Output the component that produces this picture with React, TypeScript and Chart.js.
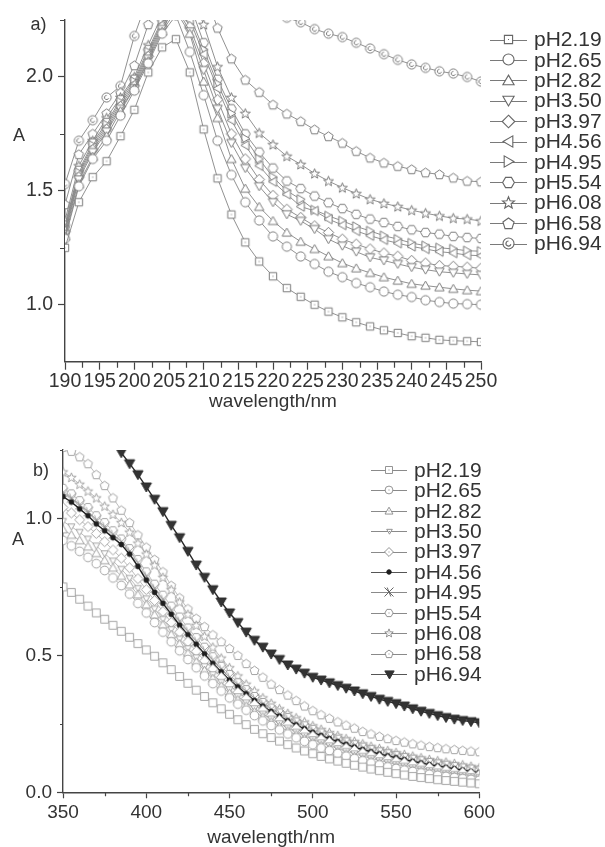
import React, { useEffect, useRef } from 'react';
import { Chart, registerables } from 'chart.js';
Chart.register(...registerables);

// ---------------- DATA ----------------
const seriesLabels = ['pH2.19', 'pH2.65', 'pH2.82', 'pH3.50', 'pH3.97', 'pH4.56', 'pH4.95', 'pH5.54', 'pH6.08', 'pH6.58', 'pH6.94'];

// Panel a: wavelength 190-250 nm (every 2 nm)
const waveA = [190, 192, 194, 196, 198, 200, 202, 204, 206, 208, 210, 212, 214, 216, 218, 220, 222, 224, 226, 228, 230, 232, 234, 236, 238, 240, 242, 244, 246, 248, 250];
const a219 = [1.25, 1.45, 1.56, 1.63, 1.74, 1.856, 2.02, 2.13, 2.166, 2.02, 1.77, 1.555, 1.396, 1.274, 1.19, 1.125, 1.073, 1.035, 1.0, 0.97, 0.945, 0.923, 0.905, 0.888, 0.876, 0.862, 0.855, 0.846, 0.842, 0.84, 0.837];
const a265 = [1.29, 1.52, 1.64, 1.72, 1.83, 1.94, 2.06, 2.19, 2.27, 2.11, 1.92, 1.72, 1.57, 1.45, 1.37, 1.30, 1.255, 1.212, 1.179, 1.145, 1.121, 1.095, 1.077, 1.058, 1.044, 1.034, 1.02, 1.012, 1.005, 1.003, 1.0];
const a282 = [1.30, 1.53, 1.65, 1.74, 1.85, 1.95, 2.07, 2.20, 2.29, 2.19, 1.98, 1.82, 1.64, 1.51, 1.43, 1.368, 1.317, 1.277, 1.245, 1.213, 1.183, 1.16, 1.14, 1.121, 1.106, 1.092, 1.084, 1.077, 1.07, 1.064, 1.06];
const a350 = [1.31, 1.55, 1.67, 1.76, 1.86, 1.95, 2.08, 2.21, 2.31, 2.20, 2.03, 1.86, 1.71, 1.60, 1.52, 1.45, 1.397, 1.368, 1.332, 1.288, 1.259, 1.233, 1.208, 1.194, 1.179, 1.165, 1.154, 1.145, 1.14, 1.135, 1.131];
const a397 = [1.32, 1.56, 1.68, 1.77, 1.87, 1.96, 2.09, 2.22, 2.33, 2.22, 2.06, 1.90, 1.75, 1.64, 1.55, 1.48, 1.419, 1.383, 1.346, 1.317, 1.288, 1.266, 1.245, 1.227, 1.213, 1.194, 1.183, 1.172, 1.169, 1.165, 1.16];
const a456 = [1.33, 1.57, 1.69, 1.78, 1.88, 1.97, 2.10, 2.23, 2.34, 2.25, 2.10, 1.95, 1.81, 1.70, 1.61, 1.54, 1.485, 1.431, 1.412, 1.376, 1.35, 1.324, 1.303, 1.285, 1.27, 1.256, 1.245, 1.233, 1.227, 1.218, 1.215];
const a495 = [1.34, 1.58, 1.70, 1.79, 1.89, 1.98, 2.11, 2.24, 2.36, 2.27, 2.12, 1.97, 1.84, 1.73, 1.64, 1.56, 1.50, 1.463, 1.416, 1.39, 1.368, 1.344, 1.324, 1.303, 1.288, 1.271, 1.259, 1.25, 1.245, 1.237, 1.235];
const a554 = [1.35, 1.59, 1.71, 1.80, 1.90, 1.99, 2.12, 2.25, 2.38, 2.32, 2.15, 1.99, 1.86, 1.75, 1.67, 1.60, 1.543, 1.51, 1.477, 1.448, 1.422, 1.397, 1.376, 1.361, 1.344, 1.329, 1.317, 1.31, 1.30, 1.295, 1.291];
const a608 = [1.37, 1.61, 1.72, 1.82, 1.91, 2.00, 2.14, 2.27, 2.42, 2.38, 2.23, 2.045, 1.91, 1.84, 1.754, 1.703, 1.652, 1.616, 1.576, 1.543, 1.514, 1.488, 1.463, 1.445, 1.431, 1.415, 1.402, 1.39, 1.38, 1.376, 1.368];
const a658 = [1.44, 1.66, 1.75, 1.84, 1.93, 2.05, 2.23, 2.40, 2.50, 2.52, 2.38, 2.215, 2.08, 1.987, 1.933, 1.878, 1.838, 1.805, 1.769, 1.739, 1.71, 1.674, 1.645, 1.623, 1.608, 1.594, 1.58, 1.572, 1.557, 1.543, 1.54];
const a694 = [1.53, 1.72, 1.81, 1.91, 1.96, 2.18, 2.35, 2.48, 2.58, 2.62, 2.60, 2.55, 2.48, 2.42, 2.35, 2.29, 2.26, 2.24, 2.21, 2.19, 2.175, 2.15, 2.125, 2.10, 2.075, 2.055, 2.04, 2.025, 2.015, 2.0, 1.98];

const xTicksA = [190, 195, 200, 205, 210, 215, 220, 225, 230, 235, 240, 245, 250];
const xMinorA = [192.5, 197.5, 202.5, 207.5, 212.5, 217.5, 222.5, 227.5, 232.5, 237.5, 242.5, 247.5];
const yTicksA = [1.0, 1.5, 2.0];
const yMinorA = [1.25, 1.75, 2.25];

// Panel b: wavelength 350-600 nm (every 5 nm)
const waveB = [350, 355, 360, 365, 370, 375, 380, 385, 390, 395, 400, 405, 410, 415, 420, 425, 430, 435, 440, 445, 450, 455, 460, 465, 470, 475, 480, 485, 490, 495, 500, 505, 510, 515, 520, 525, 530, 535, 540, 545, 550, 555, 560, 565, 570, 575, 580, 585, 590, 595, 600];
const b219 = [0.75, 0.73, 0.705, 0.68, 0.655, 0.632, 0.61, 0.588, 0.566, 0.543, 0.52, 0.497, 0.473, 0.448, 0.423, 0.398, 0.373, 0.35, 0.327, 0.305, 0.285, 0.265, 0.247, 0.23, 0.214, 0.2, 0.187, 0.174, 0.162, 0.151, 0.141, 0.131, 0.122, 0.114, 0.106, 0.099, 0.092, 0.085, 0.079, 0.073, 0.068, 0.063, 0.058, 0.054, 0.05, 0.046, 0.043, 0.04, 0.037, 0.034, 0.031];
const b265 = [0.92, 0.9, 0.88, 0.858, 0.835, 0.81, 0.783, 0.755, 0.724, 0.69, 0.655, 0.62, 0.585, 0.55, 0.517, 0.485, 0.455, 0.425, 0.397, 0.37, 0.345, 0.322, 0.3, 0.28, 0.261, 0.244, 0.228, 0.213, 0.199, 0.186, 0.174, 0.162, 0.152, 0.142, 0.132, 0.123, 0.115, 0.107, 0.1, 0.093, 0.087, 0.081, 0.076, 0.071, 0.066, 0.062, 0.058, 0.054, 0.05, 0.047, 0.044];
const b282 = [0.96, 0.94, 0.92, 0.897, 0.873, 0.847, 0.82, 0.79, 0.758, 0.722, 0.685, 0.648, 0.612, 0.576, 0.542, 0.508, 0.476, 0.445, 0.416, 0.388, 0.362, 0.338, 0.315, 0.294, 0.275, 0.257, 0.24, 0.224, 0.21, 0.196, 0.183, 0.171, 0.16, 0.15, 0.14, 0.131, 0.122, 0.114, 0.107, 0.1, 0.094, 0.088, 0.082, 0.077, 0.072, 0.067, 0.063, 0.059, 0.055, 0.052, 0.049];
const b350 = [0.99, 0.97, 0.95, 0.925, 0.9, 0.872, 0.845, 0.815, 0.782, 0.745, 0.707, 0.67, 0.632, 0.595, 0.56, 0.525, 0.492, 0.46, 0.43, 0.402, 0.375, 0.35, 0.327, 0.306, 0.286, 0.268, 0.251, 0.235, 0.22, 0.206, 0.193, 0.181, 0.17, 0.16, 0.15, 0.141, 0.132, 0.124, 0.116, 0.109, 0.102, 0.096, 0.09, 0.085, 0.08, 0.075, 0.07, 0.066, 0.062, 0.058, 0.055];
const b397 = [1.04, 1.02, 0.995, 0.97, 0.945, 0.915, 0.885, 0.855, 0.82, 0.78, 0.74, 0.7, 0.66, 0.62, 0.585, 0.55, 0.515, 0.48, 0.45, 0.42, 0.392, 0.365, 0.342, 0.32, 0.3, 0.281, 0.264, 0.248, 0.233, 0.219, 0.206, 0.194, 0.183, 0.172, 0.162, 0.153, 0.144, 0.136, 0.128, 0.121, 0.114, 0.108, 0.102, 0.096, 0.091, 0.086, 0.081, 0.076, 0.072, 0.068, 0.064];
const b456 = [1.08, 1.06, 1.035, 1.01, 0.98, 0.955, 0.93, 0.905, 0.87, 0.825, 0.775, 0.73, 0.69, 0.65, 0.61, 0.575, 0.54, 0.505, 0.47, 0.44, 0.41, 0.385, 0.36, 0.335, 0.315, 0.295, 0.278, 0.261, 0.246, 0.232, 0.219, 0.207, 0.196, 0.185, 0.175, 0.165, 0.156, 0.148, 0.14, 0.133, 0.126, 0.119, 0.113, 0.107, 0.101, 0.096, 0.091, 0.086, 0.081, 0.076, 0.072];
const b495 = [1.095, 1.075, 1.05, 1.025, 0.995, 0.97, 0.942, 0.915, 0.88, 0.838, 0.79, 0.745, 0.705, 0.665, 0.625, 0.588, 0.552, 0.518, 0.483, 0.45, 0.42, 0.392, 0.368, 0.343, 0.322, 0.302, 0.284, 0.267, 0.252, 0.238, 0.225, 0.212, 0.2, 0.19, 0.18, 0.17, 0.161, 0.152, 0.144, 0.137, 0.13, 0.123, 0.117, 0.111, 0.105, 0.1, 0.095, 0.09, 0.085, 0.081, 0.077];
const b554 = [1.11, 1.09, 1.065, 1.04, 1.01, 0.985, 0.955, 0.925, 0.89, 0.85, 0.805, 0.76, 0.72, 0.68, 0.64, 0.6, 0.565, 0.53, 0.495, 0.46, 0.43, 0.4, 0.375, 0.35, 0.328, 0.308, 0.29, 0.273, 0.257, 0.243, 0.23, 0.217, 0.205, 0.194, 0.184, 0.174, 0.165, 0.156, 0.148, 0.141, 0.134, 0.127, 0.121, 0.115, 0.109, 0.104, 0.099, 0.094, 0.089, 0.085, 0.081];
const b608 = [1.17, 1.15, 1.125, 1.1, 1.075, 1.045, 1.015, 0.985, 0.95, 0.91, 0.87, 0.83, 0.785, 0.74, 0.695, 0.65, 0.61, 0.57, 0.53, 0.49, 0.455, 0.425, 0.395, 0.37, 0.345, 0.325, 0.305, 0.288, 0.272, 0.257, 0.243, 0.23, 0.218, 0.207, 0.196, 0.186, 0.177, 0.168, 0.16, 0.152, 0.145, 0.138, 0.132, 0.126, 0.12, 0.115, 0.11, 0.105, 0.1, 0.095, 0.09];
const b658 = [1.26, 1.245, 1.225, 1.2, 1.16, 1.12, 1.075, 1.03, 0.985, 0.94, 0.895, 0.85, 0.805, 0.755, 0.71, 0.67, 0.635, 0.605, 0.575, 0.55, 0.525, 0.5, 0.47, 0.445, 0.42, 0.395, 0.375, 0.355, 0.335, 0.315, 0.298, 0.283, 0.27, 0.257, 0.245, 0.234, 0.222, 0.213, 0.204, 0.196, 0.189, 0.183, 0.177, 0.172, 0.167, 0.163, 0.159, 0.156, 0.153, 0.15, 0.148];
const b694 = [1.55, 1.51, 1.47, 1.42, 1.37, 1.33, 1.285, 1.24, 1.2, 1.16, 1.115, 1.07, 1.025, 0.975, 0.93, 0.88, 0.83, 0.785, 0.74, 0.695, 0.655, 0.62, 0.585, 0.555, 0.53, 0.505, 0.485, 0.465, 0.45, 0.435, 0.42, 0.41, 0.4, 0.39, 0.38, 0.37, 0.36, 0.35, 0.34, 0.332, 0.324, 0.315, 0.305, 0.296, 0.288, 0.28, 0.273, 0.267, 0.262, 0.258, 0.254];

const xTicksB = [350, 400, 450, 500, 550, 600];
const xMinorB = [375, 425, 475, 525, 575];
const yTicksB = [0.0, 0.5, 1.0];
const yMinorB = [0.25, 0.75, 1.25];

const seriesA = [a219, a265, a282, a350, a397, a456, a495, a554, a608, a658, a694];
const seriesB = [b219, b265, b282, b350, b397, b456, b495, b554, b608, b658, b694];

// ---------------- STYLE ----------------
const FONT = "'Liberation Sans', Arial, Helvetica, sans-serif";
const TEXT = '#333333';
const AXIS = '#444444';

const markersA = ['square', 'circle', 'triUp', 'triDown', 'diamond', 'triLeft', 'triRight', 'hexagon', 'star', 'pentagon', 'circleE'];
const markersB = ['square', 'circle', 'triUp', 'triDownSmall', 'diamond', 'dot', 'xstar', 'hexagon', 'star', 'pentagon', 'triDownFill'];

function poly(g: CanvasRenderingContext2D, cx: number, cy: number, r: number, n: number, startDeg: number) {
  for (let k = 0; k < n; k++) {
    const a = ((startDeg + (360 * k) / n) * Math.PI) / 180;
    const px = cx + r * Math.cos(a);
    const py = cy + r * Math.sin(a);
    if (k === 0) g.moveTo(px, py);
    else g.lineTo(px, py);
  }
  g.closePath();
}

function makeMarker(kind: string, size: number, stroke: string, fill: string, lw: number, centerDot = false): HTMLCanvasElement {
  const S = Math.ceil(size) + 5;
  const c = document.createElement('canvas');
  c.width = S;
  c.height = S;
  const g = c.getContext('2d') as CanvasRenderingContext2D;
  const cx = S / 2;
  const cy = S / 2;
  const r = size / 2;
  g.lineWidth = lw;
  g.strokeStyle = stroke;
  g.fillStyle = fill;
  g.lineJoin = 'miter';
  g.beginPath();
  switch (kind) {
    case 'square':
      g.rect(cx - r * 0.82, cy - r * 0.82, r * 1.64, r * 1.64);
      break;
    case 'circle':
    case 'circleE':
      g.arc(cx, cy, r * 0.92, 0, Math.PI * 2);
      break;
    case 'dot':
      g.arc(cx, cy, r * 0.9, 0, Math.PI * 2);
      break;
    case 'triUp':
      poly(g, cx, cy + r * 0.18, r * 1.08, 3, -90);
      break;
    case 'triDown':
    case 'triDownSmall':
    case 'triDownFill':
      poly(g, cx, cy - r * 0.18, r * 1.08, 3, 90);
      break;
    case 'triLeft':
      poly(g, cx + r * 0.18, cy, r * 1.08, 3, 180);
      break;
    case 'triRight':
      poly(g, cx - r * 0.18, cy, r * 1.08, 3, 0);
      break;
    case 'diamond':
      poly(g, cx, cy, r * 1.05, 4, -90);
      break;
    case 'hexagon':
      poly(g, cx, cy, r * 0.98, 6, 0);
      break;
    case 'pentagon':
      poly(g, cx, cy + r * 0.06, r * 0.98, 5, -90);
      break;
    case 'star': {
      for (let k = 0; k < 10; k++) {
        const a = ((-90 + 36 * k) * Math.PI) / 180;
        const rr = k % 2 === 0 ? r * 1.05 : r * 0.45;
        const px = cx + rr * Math.cos(a);
        const py = cy + 0.08 * r + rr * Math.sin(a);
        if (k === 0) g.moveTo(px, py);
        else g.lineTo(px, py);
      }
      g.closePath();
      break;
    }
    case 'xstar':
      break;
  }
  if (kind === 'xstar') {
    g.moveTo(cx - r, cy - r);
    g.lineTo(cx + r, cy + r);
    g.moveTo(cx + r, cy - r);
    g.lineTo(cx - r, cy + r);
    g.moveTo(cx - r * 0.4, cy - r);
    g.lineTo(cx + r * 0.4, cy + r);
    g.stroke();
    return c;
  }
  g.fill();
  g.stroke();
  if (kind === 'circleE') {
    g.beginPath();
    g.arc(cx, cy, r * 0.42, Math.PI * 0.1, Math.PI * 1.5);
    g.stroke();
  }
  if (centerDot) {
    g.fillStyle = stroke;
    g.fillRect(cx - 0.5, cy - 0.5, 1, 1);
  }
  return c;
}

type OverlayCfg = {
  legendX1: number;
  legendX2: number;
  legendTextX: number;
  legendY0: number;
  legendDy: number;
  legendFont: number;
  legendLines: string[];
  legendMarkers: HTMLCanvasElement[];
  texts: { text: string; x: number; y: number; size: number }[];
  minorX: number[];
  minorY: number[];
  minorLenX: number;
  minorLenY: number;
};

function overlayPlugin(cfg: OverlayCfg) {
  return {
    id: 'overlay',
    afterDraw(chart: any) {
      const ctx: CanvasRenderingContext2D = chart.ctx;
      const xs = chart.scales.x;
      const ys = chart.scales.y;
      const area = chart.chartArea;
      ctx.save();
      // minor ticks
      ctx.strokeStyle = AXIS;
      ctx.lineWidth = 1.2;
      ctx.beginPath();
      for (const v of cfg.minorX) {
        const px = Math.round(xs.getPixelForValue(v)) + 0.5;
        ctx.moveTo(px, area.bottom);
        ctx.lineTo(px, area.bottom + cfg.minorLenX);
      }
      for (const v of cfg.minorY) {
        const py = Math.round(ys.getPixelForValue(v)) + 0.5;
        ctx.moveTo(area.left, py);
        ctx.lineTo(area.left - cfg.minorLenY, py);
      }
      ctx.stroke();
      // legend
      ctx.font = `${cfg.legendFont}px ${FONT}`;
      ctx.textBaseline = 'middle';
      ctx.textAlign = 'left';
      chart.data.datasets.forEach((ds: any, i: number) => {
        const y = cfg.legendY0 + i * cfg.legendDy;
        ctx.strokeStyle = cfg.legendLines[i];
        ctx.lineWidth = 1;
        ctx.beginPath();
        ctx.moveTo(cfg.legendX1, Math.round(y) + 0.5);
        ctx.lineTo(cfg.legendX2, Math.round(y) + 0.5);
        ctx.stroke();
        const m = cfg.legendMarkers[i];
        const cx = (cfg.legendX1 + cfg.legendX2) / 2;
        ctx.drawImage(m, Math.round(cx - m.width / 2), Math.round(y - m.height / 2));
        ctx.fillStyle = TEXT;
        ctx.fillText(ds.label, cfg.legendTextX, y + 1);
      });
      // free texts
      for (const t of cfg.texts) {
        ctx.font = `${t.size}px ${FONT}`;
        ctx.fillStyle = TEXT;
        ctx.textAlign = 'center';
        ctx.textBaseline = 'middle';
        ctx.fillText(t.text, t.x, t.y);
      }
      ctx.restore();
    },
  };
}

function axisCommon(tickLen: number, fontSize: number) {
  return {
    grid: { drawOnChartArea: false, drawTicks: true, tickLength: tickLen, tickColor: AXIS, tickWidth: 1.2 },
    border: { display: true, color: AXIS, width: 1.4 },
    ticks: { color: TEXT, font: { size: fontSize, family: FONT }, autoSkip: false, maxRotation: 0, minRotation: 0 },
  };
}

function buildA(canvas: HTMLCanvasElement) {
  const plotMarkers = markersA.map((k) => makeMarker(k, k === 'square' ? 9 : 10, '#7c7c7c', '#ffffff', 1, k === 'square'));
  const legMarkers = markersA.map((k) => makeMarker(k, k === 'square' ? 10 : 12, '#666666', '#ffffff', 1.1, k === 'square'));
  const datasets = seriesA.map((arr, i) => ({
    label: seriesLabels[i],
    data: waveA.map((x, j) => ({ x, y: arr[j] })),
    borderColor: '#858585',
    borderWidth: 0.9,
    pointStyle: plotMarkers[i],
    pointRadius: 4,
    pointHoverRadius: 4,
    tension: 0,
    fill: false,
  }));
  const cx = axisCommon(8, 19.5);
  const cy = axisCommon(7, 19.5);
  return new Chart(canvas, {
    type: 'line',
    data: { datasets },
    options: {
      animation: false,
      responsive: false,
      events: [],
      layout: { padding: { left: 0, right: 124, top: 20, bottom: 0 } },
      plugins: { legend: { display: false }, tooltip: { enabled: false } },
      scales: {
        x: {
          type: 'linear',
          min: 190,
          max: 250,
          ...cx,
          ticks: { ...cx.ticks, padding: 0, callback: (v: any) => String(v) },
          afterBuildTicks: (s: any) => {
            s.ticks = xTicksA.map((v) => ({ value: v }));
          },
          afterFit: (s: any) => {
            s.height = 58.3;
          },
          title: { display: true, text: 'wavelength/nm', color: TEXT, font: { size: 19, family: FONT }, padding: { top: 0, bottom: 7 } },
        },
        y: {
          type: 'linear',
          min: 0.75,
          max: 2.25,
          ...cy,
          ticks: { ...cy.ticks, padding: 5, callback: (v: any) => Number(v).toFixed(1) },
          afterBuildTicks: (s: any) => {
            s.ticks = yTicksA.map((v) => ({ value: v }));
          },
          afterFit: (s: any) => {
            s.width = 65;
          },
        },
      },
    } as any,
    plugins: [
      overlayPlugin({
        legendX1: 490,
        legendX2: 527,
        legendTextX: 534,
        legendY0: 39.5,
        legendDy: 20.4,
        legendFont: 21,
        legendLines: seriesA.map(() => '#7a7a7a'),
        legendMarkers: legMarkers,
        texts: [
          { text: 'a)', x: 38.5, y: 25, size: 18 },
          { text: 'A', x: 19, y: 136, size: 18 },
        ],
        minorX: xMinorA,
        minorY: yMinorA,
        minorLenX: 6,
        minorLenY: 5,
      }),
    ],
  });
}

function buildB(canvas: HTMLCanvasElement) {
  const lineColors = seriesB.map((_, i) => (i === 10 ? '#2a2a2a' : i === 5 ? '#222222' : '#a0a0a0'));
  const plotMarkers = markersB.map((k) => {
    if (k === 'triDownFill') return makeMarker(k, 11, '#2a2a2a', '#333333', 1);
    if (k === 'dot') return makeMarker(k, 5.5, '#1e1e1e', '#1e1e1e', 1);
    if (k === 'triDownSmall') return makeMarker(k, 7.5, '#9a9a9a', '#ffffff', 0.9);
    return makeMarker(k, 9.5, '#9a9a9a', '#ffffff', 0.9);
  });
  const legMarkers = markersB.map((k) => {
    if (k === 'triDownFill') return makeMarker(k, 10, '#333333', '#333333', 1);
    if (k === 'dot') return makeMarker(k, 5, '#1e1e1e', '#1e1e1e', 1);
    if (k === 'triDownSmall') return makeMarker(k, 6, '#888888', '#ffffff', 0.9, true);
    if (k === 'xstar') return makeMarker(k, 9, '#666666', '#ffffff', 1);
    return makeMarker(k, 8.5, '#888888', '#ffffff', 0.9, true);
  });
  const datasets = seriesB.map((arr, i) => ({
    label: seriesLabels[i],
    data: waveB.map((x, j) => ({ x, y: arr[j] })),
    borderColor: lineColors[i],
    borderWidth: i === 5 || i === 10 ? 1.4 : 0.7,
    pointStyle: plotMarkers[i],
    pointRadius: 4,
    pointHoverRadius: 4,
    tension: 0,
    fill: false,
  }));
  const cx = axisCommon(6, 19);
  const cy = axisCommon(6, 19);
  return new Chart(canvas, {
    type: 'line',
    data: { datasets },
    options: {
      animation: false,
      responsive: false,
      events: [],
      layout: { padding: { left: 0, right: 125.7, top: 30, bottom: 0 } },
      plugins: { legend: { display: false }, tooltip: { enabled: false } },
      scales: {
        x: {
          type: 'linear',
          min: 350,
          max: 600,
          ...cx,
          ticks: { ...cx.ticks, padding: 3, callback: (v: any) => String(v) },
          afterBuildTicks: (s: any) => {
            s.ticks = xTicksB.map((v) => ({ value: v }));
          },
          afterFit: (s: any) => {
            s.height = 67.7;
          },
          title: { display: true, text: 'wavelength/nm', color: TEXT, font: { size: 19, family: FONT }, padding: { top: 0, bottom: 10.6 } },
        },
        y: {
          type: 'linear',
          min: 0,
          max: 1.25,
          ...cy,
          ticks: { ...cy.ticks, padding: 5, callback: (v: any) => Number(v).toFixed(1) },
          afterBuildTicks: (s: any) => {
            s.ticks = yTicksB.map((v) => ({ value: v }));
          },
          afterFit: (s: any) => {
            s.width = 63;
          },
        },
      },
    } as any,
    plugins: [
      overlayPlugin({
        legendX1: 371,
        legendX2: 407,
        legendTextX: 414,
        legendY0: 50,
        legendDy: 20.4,
        legendFont: 21,
        legendLines: seriesB.map((_, i) => (i === 10 || i === 5 ? '#555555' : '#8a8a8a')),
        legendMarkers: legMarkers,
        texts: [
          { text: 'b)', x: 41, y: 51, size: 18 },
          { text: 'A', x: 18, y: 120, size: 18 },
        ],
        minorX: xMinorB,
        minorY: yMinorB,
        minorLenX: 4,
        minorLenY: 3,
      }),
    ],
  });
}

export default function App() {
  const refA = useRef<HTMLCanvasElement>(null);
  const refB = useRef<HTMLCanvasElement>(null);
  useEffect(() => {
    const ca = buildA(refA.current as HTMLCanvasElement);
    const cb = buildB(refB.current as HTMLCanvasElement);
    return () => {
      ca.destroy();
      cb.destroy();
    };
  }, []);
  return (
    <div style={{ position: 'fixed', left: 0, top: 0, width: 605, height: 847, overflow: 'hidden', background: '#ffffff' }}>
      <canvas ref={refA} width={605} height={420} style={{ position: 'absolute', left: 0, top: 0, width: 605, height: 420, display: 'block' }} />
      <canvas ref={refB} width={605} height={440} style={{ position: 'absolute', left: 0, top: 420, width: 605, height: 440, display: 'block' }} />
    </div>
  );
}
